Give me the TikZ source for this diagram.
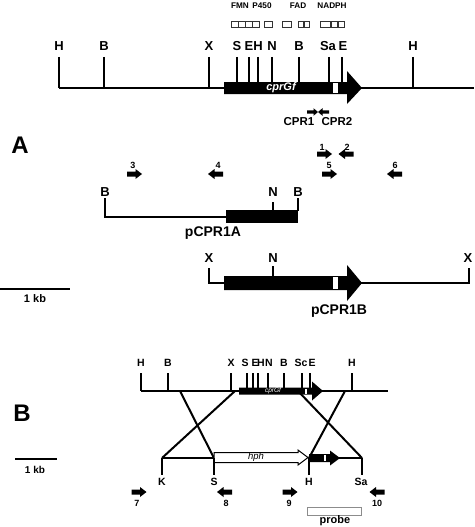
\documentclass[tikz,border=0pt]{standalone}
\usepackage{fontspec}
\setmainfont{Liberation Sans}
\begin{document}
\begin{tikzpicture}[x=1pt,y=-1pt,
  lblA/.style={font=\bfseries\fontsize{13}{13}\selectfont, inner sep=0pt},
  lblB/.style={font=\bfseries\fontsize{10.5}{10.5}\selectfont, inner sep=0pt},
  dlbl/.style={font=\bfseries\fontsize{8.2}{8.2}\selectfont, inner sep=0pt},
  num/.style={font=\bfseries\fontsize{9}{9}\selectfont, inner sep=0pt},
  big/.style={font=\bfseries\fontsize{24}{24}\selectfont, inner sep=0pt},
  plab/.style={font=\bfseries\fontsize{14}{14}\selectfont, inner sep=0pt},
  mainline/.style={line width=2.4pt},
  thinline/.style={line width=2pt},
  tick/.style={line width=1.5pt},
  dombox/.style={draw=black!80, line width=0.7pt},
  pr/.pic={\fill (-7.5,-2.5)--(1,-2.5)--(1,-5)--(7.5,0)--(1,5)--(1,2.5)--(-7.5,2.5)--cycle;},
  pl/.pic={\fill (7.5,-2.5)--(-1,-2.5)--(-1,-5)--(-7.5,0)--(-1,5)--(-1,2.5)--(7.5,2.5)--cycle;},
  spr/.pic={\fill (-5.5,-1.6)--(1,-1.6)--(1,-3.8)--(5.5,0)--(1,3.8)--(1,1.6)--(-5.5,1.6)--cycle;},
  spl/.pic={\fill (5.5,-1.6)--(-1,-1.6)--(-1,-3.8)--(-5.5,0)--(-1,3.8)--(-1,1.6)--(5.5,1.6)--cycle;}
]
\useasboundingbox (0,0) rectangle (474,527);

% ---------------- Panel A: genomic map ----------------
\node[dlbl] (fmn) at (240,6) {FMN};
\node[dlbl] (p450) at (262,6) {P450};
\node[dlbl] (fad) at (298,6) {FAD};
\node[dlbl] (nadph) at (332,6) {NADPH};
\foreach \a/\b in {231/238,238/245,245/252,252/259,264/272,282/291,298/303,304/309,320/330,331/337,338/344}
  \draw[dombox] (\a,21.5) rectangle (\b,27);

\draw[mainline] (59,88) -- (474,88);
\foreach \x in {59,104,209,237,249,258,272,299,329,342,413}
  \draw[tick] (\x,57) -- (\x,88);
\fill (224,82) -- (347,82) -- (347,71) -- (362,88) -- (347,104) -- (347,94) -- (224,94) -- cycle;
\fill[white] (333,83) rectangle (338,93);
\node[inner sep=0pt, text=white, font=\bfseries\itshape\fontsize{11}{11}\selectfont] (cpr) at (281,88) {cprGf};
\foreach \x/\t [count=\i] in {59/H,104/B,209/X,237/S,249/E,258/H,272/N,299/B,328/Sa,343/E,413/H}
  \node[lblA] (ta\i) at (\x,46) {\t};

\pic at (312.5,112) {spr};
\pic at (323.5,112) {spl};
\node[font=\bfseries\fontsize{11.5}{11.5}\selectfont, inner sep=0pt] (cpr1) at (299,122) {CPR1};
\node[font=\bfseries\fontsize{11.5}{11.5}\selectfont, inner sep=0pt] (cpr2) at (337,122) {CPR2};

\node[big] (labA) at (20,145) {A};

% primers A
\pic at (324.5,154) {pr};  \node[num] (n1) at (322,147) {1};
\pic at (346,154) {pl};    \node[num] (n2) at (347,147) {2};
\pic at (134.5,174) {pr};  \node[num] (n3) at (133,165) {3};
\pic at (215.5,174) {pl};  \node[num] (n4) at (218,165) {4};
\pic at (329.5,174) {pr};  \node[num] (n5) at (329,165) {5};
\pic at (394.5,174) {pl};  \node[num] (n6) at (395,165) {6};

% pCPR1A
\draw[thinline] (105,198) -- (105,217) -- (226,217);
\fill (226,210) rectangle (298,223);
\draw[tick] (273,202) -- (273,211);
\draw[tick] (298,198) -- (298,211);
\node[lblA] (pa1) at (105,192) {B};
\node[lblA] (pa2) at (273,192) {N};
\node[lblA] (pa3) at (298,192) {B};
\node[plab] (pcpr1a) at (213,233) {pCPR1A};

% pCPR1B
\draw[thinline] (209,268) -- (209,283) -- (469,283) -- (469,268);
\fill (224,276) -- (347,276) -- (347,265) -- (362,283) -- (347,301) -- (347,290) -- (224,290) -- cycle;
\fill[white] (333,277) rectangle (338,289);
\draw[tick] (273,266) -- (273,277);
\node[lblA] (pb1) at (209,258) {X};
\node[lblA] (pb2) at (273,258) {N};
\node[lblA] (pb3) at (468,258) {X};
\node[plab] (pcpr1b) at (339,311) {pCPR1B};

% scale bar A
\coordinate (sa0) at (0,289);
\coordinate (sa1) at (70,289);
\draw[line width=1.4pt] (sa0) -- (sa1);
\node[font=\bfseries\fontsize{11}{11}\selectfont, inner sep=0pt] (kbA) at (35,299) {1 kb};

% ---------------- Panel B ----------------
\node[big] (labB) at (22,413) {B};
\coordinate (sb0) at (15,459);
\coordinate (sb1) at (57,459);
\draw[line width=1.4pt] (sb0) -- (sb1);
\node[font=\bfseries\fontsize{10}{10}\selectfont, inner sep=0pt] (kbB) at (35,470) {1 kb};

\draw[thinline] (141,391) -- (388,391);
\foreach \x in {141,168,231,247,253,258,268,284,302,310,352}
  \draw[line width=1.2pt] (\x,373) -- (\x,391);
\fill (239,387.5) -- (312,387.5) -- (312,381.5) -- (323,391) -- (312,400.5) -- (312,394.5) -- (239,394.5) -- cycle;
\fill[white] (304.5,388.5) rectangle (306.5,393.5);
\node[inner sep=0pt, text=white, font=\itshape\fontsize{6.5}{6.5}\selectfont] (cprB) at (273,391) {cprGf};
\foreach \x/\t [count=\i] in {141/H,168/B,231/X,245/S,255/E,261/H,269/N,284/B,301/Sc,312/E,352/H}
  \node[lblB] (tb\i) at (\x,363) {\t};

% crossover points
\coordinate (u1) at (180,391);
\coordinate (u2) at (235,391);
\coordinate (u3) at (298,391);
\coordinate (u4) at (345,391);
\coordinate (K) at (162,458);
\coordinate (S) at (214,458);
\coordinate (H) at (309,458);
\coordinate (Sa) at (362,458);
\draw[thinline] (u1) -- (S);
\draw[thinline] (u2) -- (K);
\draw[thinline] (u3) -- (Sa);
\draw[thinline] (u4) -- (H);

\draw[thinline] (K) -- (S);
\draw[thinline] (H) -- (Sa);
\draw[line width=1pt, fill=white] (214,452.5) -- (298,452.5) -- (298,450) -- (308,457.5) -- (298,465) -- (298,462.5) -- (214,462.5) -- cycle;
\node[inner sep=0pt, font=\itshape\fontsize{9.5}{9.5}\selectfont] (hph) at (256,457.5) {hph};
\fill (309,454) -- (330,454) -- (330,450.5) -- (340,458) -- (330,465.5) -- (330,462) -- (309,462) -- cycle;
\fill[white] (323.5,455) rectangle (325.5,461);

\foreach \p in {K,S,H,Sa}
  \draw[line width=1.4pt] (\p) -- ++(0,17);
\node[lblB] (lk) at (162,482) {K};
\node[lblB] (ls) at (214,482) {S};
\node[lblB] (lh) at (309,482) {H};
\node[lblB] (lsa) at (361,482) {Sa};

\pic at (139,492) {pr};   \node[num] (n7) at (137,503) {7};
\pic at (224.5,492) {pl}; \node[num] (n8) at (226,503) {8};
\pic at (290,492) {pr};   \node[num] (n9) at (289,503) {9};
\pic at (377,492) {pl};   \node[num] (n10) at (377,503) {10};

\draw[black!45, line width=1pt] (307.5,507) rectangle (361.5,515);
\node[font=\bfseries\fontsize{11}{11}\selectfont, inner sep=0pt] (probe) at (335,521) {probe};
\end{tikzpicture}
\end{document}
